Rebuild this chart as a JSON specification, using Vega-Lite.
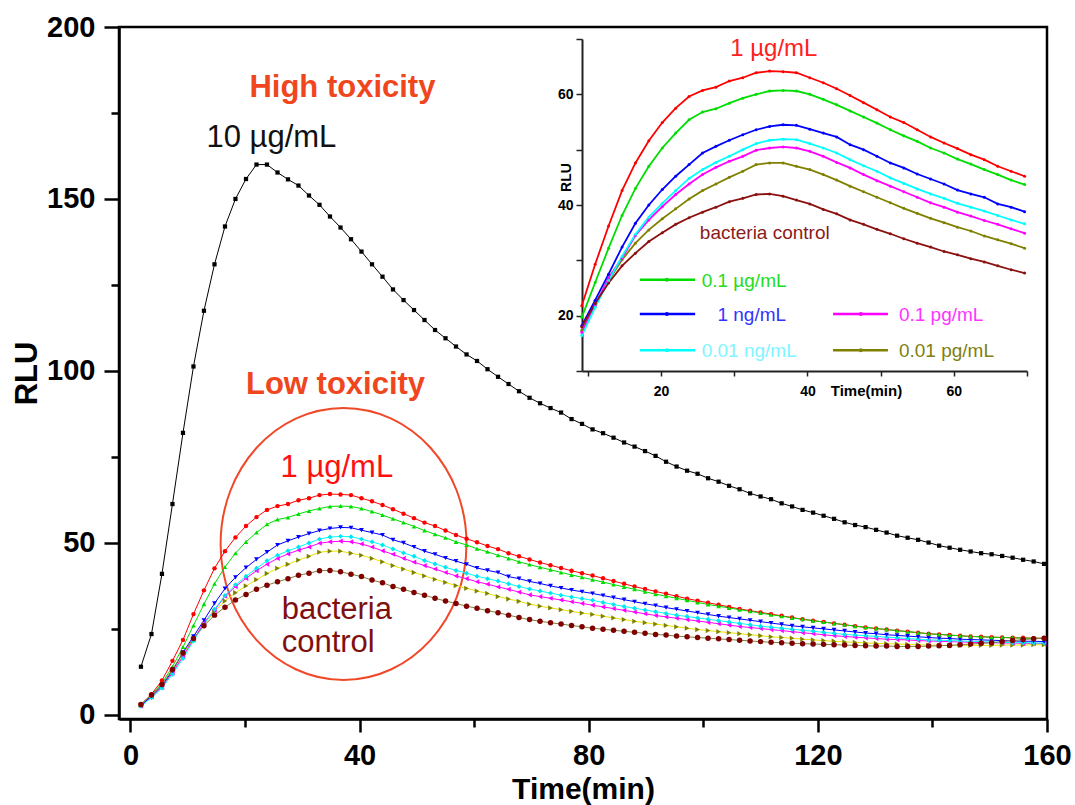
{
"$schema":"https://vega.github.io/schema/vega-lite/v6.json",
"autosize":{"type":"none"},
"width":928,"height":692,
"padding":{"left":119,"top":27,"right":28,"bottom":86},
"background":"white",
"config":{"view":{"stroke":"#000","strokeWidth":2.5},"font":"Liberation Sans","axis":{"grid":false}},
"datasets":{"d":[
{"t":1.83,"s":"k","v":14},{"t":3.67,"s":"k","v":23.5},{"t":5.5,"s":"k","v":41},{"t":7.33,"s":"k","v":61.3},{"t":9.17,"s":"k","v":82},{"t":11,"s":"k","v":101.3},{"t":12.83,"s":"k","v":117.5},{"t":14.67,"s":"k","v":131},{"t":16.5,"s":"k","v":142},{"t":18.33,"s":"k","v":150},
{"t":20.17,"s":"k","v":155.8},{"t":22,"s":"k","v":160},{"t":23.83,"s":"k","v":160},{"t":25.67,"s":"k","v":157.7},{"t":27.5,"s":"k","v":155.7},{"t":29.33,"s":"k","v":153.9},{"t":31.17,"s":"k","v":151},{"t":33,"s":"k","v":148.3},{"t":34.83,"s":"k","v":144.9},{"t":36.67,"s":"k","v":141.7},
{"t":38.5,"s":"k","v":138.3},{"t":40.33,"s":"k","v":134.7},{"t":42.17,"s":"k","v":131},{"t":44,"s":"k","v":127.4},{"t":45.83,"s":"k","v":123.7},{"t":47.67,"s":"k","v":120.6},{"t":49.5,"s":"k","v":117.7},{"t":51.33,"s":"k","v":114.8},{"t":53.17,"s":"k","v":111.9},{"t":55,"s":"k","v":109.5},
{"t":56.83,"s":"k","v":107.1},{"t":58.67,"s":"k","v":104.8},{"t":60.5,"s":"k","v":102.9},{"t":62.33,"s":"k","v":100.5},{"t":64.17,"s":"k","v":98.3},{"t":66,"s":"k","v":96.2},{"t":67.83,"s":"k","v":94.1},{"t":69.67,"s":"k","v":92.2},{"t":71.5,"s":"k","v":90.6},{"t":73.33,"s":"k","v":89.2},
{"t":75.17,"s":"k","v":87.9},{"t":77,"s":"k","v":86},{"t":78.83,"s":"k","v":84.6},{"t":80.67,"s":"k","v":83},{"t":82.5,"s":"k","v":81.9},{"t":84.33,"s":"k","v":80.6},{"t":86.17,"s":"k","v":79.2},{"t":88,"s":"k","v":78},{"t":89.83,"s":"k","v":76.7},{"t":91.67,"s":"k","v":75.3},
{"t":93.5,"s":"k","v":73.6},{"t":95.33,"s":"k","v":72.2},{"t":97.17,"s":"k","v":71},{"t":99,"s":"k","v":70.1},{"t":100.83,"s":"k","v":68.8},{"t":102.67,"s":"k","v":67.8},{"t":104.5,"s":"k","v":66.6},{"t":106.33,"s":"k","v":65.6},{"t":108.17,"s":"k","v":64.4},{"t":110,"s":"k","v":63.5},
{"t":111.83,"s":"k","v":62.7},{"t":113.67,"s":"k","v":61.5},{"t":115.5,"s":"k","v":60.6},{"t":117.33,"s":"k","v":59.6},{"t":119.17,"s":"k","v":58.8},{"t":121,"s":"k","v":57.9},{"t":122.83,"s":"k","v":57},{"t":124.67,"s":"k","v":56},{"t":126.5,"s":"k","v":55.2},{"t":128.33,"s":"k","v":54.6},
{"t":130.17,"s":"k","v":53.8},{"t":132,"s":"k","v":53},{"t":133.83,"s":"k","v":52.1},{"t":135.67,"s":"k","v":51.5},{"t":137.5,"s":"k","v":50.9},{"t":139.33,"s":"k","v":50.1},{"t":141.17,"s":"k","v":49.2},{"t":143,"s":"k","v":48.6},{"t":144.83,"s":"k","v":48},{"t":146.67,"s":"k","v":47.5},
{"t":148.5,"s":"k","v":47},{"t":150.33,"s":"k","v":46.7},{"t":152.17,"s":"k","v":46.2},{"t":154,"s":"k","v":45.7},{"t":155.83,"s":"k","v":45.1},{"t":157.67,"s":"k","v":44.6},{"t":159.5,"s":"k","v":43.9},
{"t":1.83,"s":"o","v":2.8},{"t":3.67,"s":"o","v":5.5},{"t":5.5,"s":"o","v":8.4},{"t":7.33,"s":"o","v":12.6},{"t":9.17,"s":"o","v":17.3},{"t":11,"s":"o","v":22.1},{"t":12.83,"s":"o","v":26.3},{"t":14.67,"s":"o","v":30.1},{"t":16.5,"s":"o","v":33.1},{"t":18.33,"s":"o","v":35.5},
{"t":20.17,"s":"o","v":37.5},{"t":22,"s":"o","v":39.3},{"t":23.83,"s":"o","v":41.1},{"t":25.67,"s":"o","v":42.6},{"t":27.5,"s":"o","v":43.8},{"t":29.33,"s":"o","v":45},{"t":31.17,"s":"o","v":46.1},{"t":33,"s":"o","v":47.3},{"t":34.83,"s":"o","v":47.6},{"t":36.67,"s":"o","v":47.6},
{"t":38.5,"s":"o","v":47},{"t":40.33,"s":"o","v":46.4},{"t":42.17,"s":"o","v":45.5},{"t":44,"s":"o","v":44.5},{"t":45.83,"s":"o","v":43.4},{"t":47.67,"s":"o","v":42.4},{"t":49.5,"s":"o","v":41.4},{"t":51.33,"s":"o","v":40.4},{"t":53.17,"s":"o","v":39.4},{"t":55,"s":"o","v":38.5},
{"t":56.83,"s":"o","v":37.6},{"t":58.67,"s":"o","v":36.8},{"t":60.5,"s":"o","v":36},{"t":62.33,"s":"o","v":35.3},{"t":64.17,"s":"o","v":34.4},{"t":66,"s":"o","v":33.7},{"t":67.83,"s":"o","v":33},{"t":69.67,"s":"o","v":32.2},{"t":71.5,"s":"o","v":31.6},{"t":73.33,"s":"o","v":31.1},
{"t":75.17,"s":"o","v":30.6},{"t":77,"s":"o","v":30.1},{"t":78.83,"s":"o","v":29.6},{"t":80.67,"s":"o","v":29.2},{"t":82.5,"s":"o","v":28.7},{"t":84.33,"s":"o","v":28.2},{"t":86.17,"s":"o","v":27.7},{"t":88,"s":"o","v":27.2},{"t":89.83,"s":"o","v":26.8},{"t":91.67,"s":"o","v":26.4},
{"t":93.5,"s":"o","v":26},{"t":95.33,"s":"o","v":25.6},{"t":97.17,"s":"o","v":25.2},{"t":99,"s":"o","v":24.8},{"t":100.83,"s":"o","v":24.5},{"t":102.67,"s":"o","v":24.2},{"t":104.5,"s":"o","v":23.9},{"t":106.33,"s":"o","v":23.6},{"t":108.17,"s":"o","v":23.3},{"t":110,"s":"o","v":23},
{"t":111.83,"s":"o","v":22.7},{"t":113.67,"s":"o","v":22.5},{"t":115.5,"s":"o","v":22.3},{"t":117.33,"s":"o","v":22},{"t":119.17,"s":"o","v":21.8},{"t":121,"s":"o","v":21.6},{"t":122.83,"s":"o","v":21.4},{"t":124.67,"s":"o","v":21.2},{"t":126.5,"s":"o","v":21.1},{"t":128.33,"s":"o","v":20.9},
{"t":130.17,"s":"o","v":20.8},{"t":132,"s":"o","v":20.7},{"t":133.83,"s":"o","v":20.6},{"t":135.67,"s":"o","v":20.5},{"t":137.5,"s":"o","v":20.4},{"t":139.33,"s":"o","v":20.3},{"t":141.17,"s":"o","v":20.2},{"t":143,"s":"o","v":20.2},{"t":144.83,"s":"o","v":20.2},{"t":146.67,"s":"o","v":20.2},
{"t":148.5,"s":"o","v":20.2},{"t":150.33,"s":"o","v":20.2},{"t":152.17,"s":"o","v":20.3},{"t":154,"s":"o","v":20.3},{"t":155.83,"s":"o","v":20.3},{"t":157.67,"s":"o","v":20.4},{"t":159.5,"s":"o","v":20.4},
{"t":1.83,"s":"m","v":2.6},{"t":3.67,"s":"m","v":5.2},{"t":5.5,"s":"m","v":8},{"t":7.33,"s":"m","v":12.2},{"t":9.17,"s":"m","v":17},{"t":11,"s":"m","v":21.8},{"t":12.83,"s":"m","v":26.8},{"t":14.67,"s":"m","v":30.4},{"t":16.5,"s":"m","v":34.5},{"t":18.33,"s":"m","v":37.3},
{"t":20.17,"s":"m","v":39.7},{"t":22,"s":"m","v":41.9},{"t":23.83,"s":"m","v":43.8},{"t":25.67,"s":"m","v":45.5},{"t":27.5,"s":"m","v":46.8},{"t":29.33,"s":"m","v":47.9},{"t":31.17,"s":"m","v":48.8},{"t":33,"s":"m","v":49.9},{"t":34.83,"s":"m","v":50.3},{"t":36.67,"s":"m","v":50.5},
{"t":38.5,"s":"m","v":50.3},{"t":40.33,"s":"m","v":49.7},{"t":42.17,"s":"m","v":48.8},{"t":44,"s":"m","v":47.7},{"t":45.83,"s":"m","v":46.7},{"t":47.67,"s":"m","v":45.5},{"t":49.5,"s":"m","v":44.4},{"t":51.33,"s":"m","v":43.4},{"t":53.17,"s":"m","v":42.4},{"t":55,"s":"m","v":41.4},
{"t":56.83,"s":"m","v":40.4},{"t":58.67,"s":"m","v":39.6},{"t":60.5,"s":"m","v":38.7},{"t":62.33,"s":"m","v":38},{"t":64.17,"s":"m","v":37.2},{"t":66,"s":"m","v":36.5},{"t":67.83,"s":"m","v":35.7},{"t":69.67,"s":"m","v":34.9},{"t":71.5,"s":"m","v":34.4},{"t":73.33,"s":"m","v":33.9},
{"t":75.17,"s":"m","v":33.4},{"t":77,"s":"m","v":32.9},{"t":78.83,"s":"m","v":32.4},{"t":80.67,"s":"m","v":31.9},{"t":82.5,"s":"m","v":31.4},{"t":84.33,"s":"m","v":30.9},{"t":86.17,"s":"m","v":30.4},{"t":88,"s":"m","v":29.9},{"t":89.83,"s":"m","v":29.4},{"t":91.67,"s":"m","v":28.9},
{"t":93.5,"s":"m","v":28.5},{"t":95.33,"s":"m","v":28.1},{"t":97.17,"s":"m","v":27.7},{"t":99,"s":"m","v":27.3},{"t":100.83,"s":"m","v":26.9},{"t":102.67,"s":"m","v":26.5},{"t":104.5,"s":"m","v":26.1},{"t":106.33,"s":"m","v":25.7},{"t":108.17,"s":"m","v":25.4},{"t":110,"s":"m","v":25.1},
{"t":111.83,"s":"m","v":24.8},{"t":113.67,"s":"m","v":24.5},{"t":115.5,"s":"m","v":24.2},{"t":117.33,"s":"m","v":23.9},{"t":119.17,"s":"m","v":23.6},{"t":121,"s":"m","v":23.3},{"t":122.83,"s":"m","v":23},{"t":124.67,"s":"m","v":22.8},{"t":126.5,"s":"m","v":22.6},{"t":128.33,"s":"m","v":22.4},
{"t":130.17,"s":"m","v":22.2},{"t":132,"s":"m","v":22},{"t":133.83,"s":"m","v":21.9},{"t":135.67,"s":"m","v":21.8},{"t":137.5,"s":"m","v":21.6},{"t":139.33,"s":"m","v":21.5},{"t":141.17,"s":"m","v":21.4},{"t":143,"s":"m","v":21.3},{"t":144.83,"s":"m","v":21.2},{"t":146.67,"s":"m","v":21.1},
{"t":148.5,"s":"m","v":21},{"t":150.33,"s":"m","v":21},{"t":152.17,"s":"m","v":20.9},{"t":154,"s":"m","v":20.9},{"t":155.83,"s":"m","v":20.8},{"t":157.67,"s":"m","v":20.8},{"t":159.5,"s":"m","v":20.8},
{"t":1.83,"s":"c","v":2.5},{"t":3.67,"s":"c","v":5},{"t":5.5,"s":"c","v":7.8},{"t":7.33,"s":"c","v":11.8},{"t":9.17,"s":"c","v":16.4},{"t":11,"s":"c","v":21.5},{"t":12.83,"s":"c","v":26.3},{"t":14.67,"s":"c","v":30.7},{"t":16.5,"s":"c","v":34.7},{"t":18.33,"s":"c","v":37.8},
{"t":20.17,"s":"c","v":40.3},{"t":22,"s":"c","v":42.6},{"t":23.83,"s":"c","v":44.8},{"t":25.67,"s":"c","v":46.4},{"t":27.5,"s":"c","v":47.7},{"t":29.33,"s":"c","v":48.8},{"t":31.17,"s":"c","v":50},{"t":33,"s":"c","v":51.1},{"t":34.83,"s":"c","v":51.7},{"t":36.67,"s":"c","v":51.9},
{"t":38.5,"s":"c","v":51.8},{"t":40.33,"s":"c","v":51.1},{"t":42.17,"s":"c","v":50.3},{"t":44,"s":"c","v":49.4},{"t":45.83,"s":"c","v":48.2},{"t":47.67,"s":"c","v":47.1},{"t":49.5,"s":"c","v":46.1},{"t":51.33,"s":"c","v":44.9},{"t":53.17,"s":"c","v":43.9},{"t":55,"s":"c","v":42.9},
{"t":56.83,"s":"c","v":42},{"t":58.67,"s":"c","v":41.2},{"t":60.5,"s":"c","v":40.3},{"t":62.33,"s":"c","v":39.6},{"t":64.17,"s":"c","v":38.9},{"t":66,"s":"c","v":38.1},{"t":67.83,"s":"c","v":37.3},{"t":69.67,"s":"c","v":36.6},{"t":71.5,"s":"c","v":36},{"t":73.33,"s":"c","v":35.4},
{"t":75.17,"s":"c","v":34.8},{"t":77,"s":"c","v":34.3},{"t":78.83,"s":"c","v":33.8},{"t":80.67,"s":"c","v":33.3},{"t":82.5,"s":"c","v":32.7},{"t":84.33,"s":"c","v":32.1},{"t":86.17,"s":"c","v":31.5},{"t":88,"s":"c","v":31},{"t":89.83,"s":"c","v":30.5},{"t":91.67,"s":"c","v":30},
{"t":93.5,"s":"c","v":29.5},{"t":95.33,"s":"c","v":29},{"t":97.17,"s":"c","v":28.6},{"t":99,"s":"c","v":28.2},{"t":100.83,"s":"c","v":27.8},{"t":102.67,"s":"c","v":27.4},{"t":104.5,"s":"c","v":27},{"t":106.33,"s":"c","v":26.6},{"t":108.17,"s":"c","v":26.2},{"t":110,"s":"c","v":25.8},
{"t":111.83,"s":"c","v":25.5},{"t":113.67,"s":"c","v":25.2},{"t":115.5,"s":"c","v":24.9},{"t":117.33,"s":"c","v":24.6},{"t":119.17,"s":"c","v":24.3},{"t":121,"s":"c","v":24},{"t":122.83,"s":"c","v":23.7},{"t":124.67,"s":"c","v":23.4},{"t":126.5,"s":"c","v":23.2},{"t":128.33,"s":"c","v":23},
{"t":130.17,"s":"c","v":22.8},{"t":132,"s":"c","v":22.6},{"t":133.83,"s":"c","v":22.4},{"t":135.67,"s":"c","v":22.2},{"t":137.5,"s":"c","v":22},{"t":139.33,"s":"c","v":21.8},{"t":141.17,"s":"c","v":21.7},{"t":143,"s":"c","v":21.6},{"t":144.83,"s":"c","v":21.5},{"t":146.67,"s":"c","v":21.4},
{"t":148.5,"s":"c","v":21.3},{"t":150.33,"s":"c","v":21.2},{"t":152.17,"s":"c","v":21.1},{"t":154,"s":"c","v":21},{"t":155.83,"s":"c","v":21},{"t":157.67,"s":"c","v":20.9},{"t":159.5,"s":"c","v":20.9},
{"t":1.83,"s":"b","v":2.8},{"t":3.67,"s":"b","v":5.5},{"t":5.5,"s":"b","v":8.5},{"t":7.33,"s":"b","v":12.8},{"t":9.17,"s":"b","v":18.2},{"t":11,"s":"b","v":22.8},{"t":12.83,"s":"b","v":27.5},{"t":14.67,"s":"b","v":32.4},{"t":16.5,"s":"b","v":36.7},{"t":18.33,"s":"b","v":40},
{"t":20.17,"s":"b","v":42.8},{"t":22,"s":"b","v":45.2},{"t":23.83,"s":"b","v":47.3},{"t":25.67,"s":"b","v":49.4},{"t":27.5,"s":"b","v":50.6},{"t":29.33,"s":"b","v":51.7},{"t":31.17,"s":"b","v":52.7},{"t":33,"s":"b","v":53.6},{"t":34.83,"s":"b","v":54.2},{"t":36.67,"s":"b","v":54.5},
{"t":38.5,"s":"b","v":54.4},{"t":40.33,"s":"b","v":53.7},{"t":42.17,"s":"b","v":53},{"t":44,"s":"b","v":52.3},{"t":45.83,"s":"b","v":50.9},{"t":47.67,"s":"b","v":50},{"t":49.5,"s":"b","v":48.8},{"t":51.33,"s":"b","v":47.6},{"t":53.17,"s":"b","v":46.7},{"t":55,"s":"b","v":45.6},
{"t":56.83,"s":"b","v":44.7},{"t":58.67,"s":"b","v":43.8},{"t":60.5,"s":"b","v":42.7},{"t":62.33,"s":"b","v":42},{"t":64.17,"s":"b","v":41.4},{"t":66,"s":"b","v":40.2},{"t":67.83,"s":"b","v":39.6},{"t":69.67,"s":"b","v":38.8},{"t":71.5,"s":"b","v":38.2},{"t":73.33,"s":"b","v":37.5},
{"t":75.17,"s":"b","v":36.9},{"t":77,"s":"b","v":36.3},{"t":78.83,"s":"b","v":35.8},{"t":80.67,"s":"b","v":35.3},{"t":82.5,"s":"b","v":34.7},{"t":84.33,"s":"b","v":34.1},{"t":86.17,"s":"b","v":33.5},{"t":88,"s":"b","v":32.9},{"t":89.83,"s":"b","v":32.3},{"t":91.67,"s":"b","v":31.8},
{"t":93.5,"s":"b","v":31.2},{"t":95.33,"s":"b","v":30.7},{"t":97.17,"s":"b","v":30.2},{"t":99,"s":"b","v":29.7},{"t":100.83,"s":"b","v":29.2},{"t":102.67,"s":"b","v":28.7},{"t":104.5,"s":"b","v":28.3},{"t":106.33,"s":"b","v":27.9},{"t":108.17,"s":"b","v":27.5},{"t":110,"s":"b","v":27.1},
{"t":111.83,"s":"b","v":26.7},{"t":113.67,"s":"b","v":26.3},{"t":115.5,"s":"b","v":25.9},{"t":117.33,"s":"b","v":25.6},{"t":119.17,"s":"b","v":25.3},{"t":121,"s":"b","v":25},{"t":122.83,"s":"b","v":24.7},{"t":124.67,"s":"b","v":24.4},{"t":126.5,"s":"b","v":24.1},{"t":128.33,"s":"b","v":23.8},
{"t":130.17,"s":"b","v":23.6},{"t":132,"s":"b","v":23.3},{"t":133.83,"s":"b","v":23.1},{"t":135.67,"s":"b","v":22.9},{"t":137.5,"s":"b","v":22.7},{"t":139.33,"s":"b","v":22.5},{"t":141.17,"s":"b","v":22.3},{"t":143,"s":"b","v":22.2},{"t":144.83,"s":"b","v":22},{"t":146.67,"s":"b","v":21.9},
{"t":148.5,"s":"b","v":21.8},{"t":150.33,"s":"b","v":21.7},{"t":152.17,"s":"b","v":21.6},{"t":154,"s":"b","v":21.5},{"t":155.83,"s":"b","v":21.4},{"t":157.67,"s":"b","v":21.4},{"t":159.5,"s":"b","v":21.3},
{"t":1.83,"s":"r","v":3},{"t":3.67,"s":"r","v":6},{"t":5.5,"s":"r","v":10},{"t":7.33,"s":"r","v":15.7},{"t":9.17,"s":"r","v":21.8},{"t":11,"s":"r","v":29.3},{"t":12.83,"s":"r","v":36.2},{"t":14.67,"s":"r","v":42.6},{"t":16.5,"s":"r","v":47.6},{"t":18.33,"s":"r","v":51.6},
{"t":20.17,"s":"r","v":54.9},{"t":22,"s":"r","v":57.5},{"t":23.83,"s":"r","v":59.6},{"t":25.67,"s":"r","v":60.7},{"t":27.5,"s":"r","v":61.3},{"t":29.33,"s":"r","v":62.4},{"t":31.17,"s":"r","v":63},{"t":33,"s":"r","v":63.9},{"t":34.83,"s":"r","v":64.2},{"t":36.67,"s":"r","v":64.1},
{"t":38.5,"s":"r","v":63.9},{"t":40.33,"s":"r","v":63},{"t":42.17,"s":"r","v":62.1},{"t":44,"s":"r","v":61},{"t":45.83,"s":"r","v":59.8},{"t":47.67,"s":"r","v":58.5},{"t":49.5,"s":"r","v":57.2},{"t":51.33,"s":"r","v":55.9},{"t":53.17,"s":"r","v":54.9},{"t":55,"s":"r","v":53.6},
{"t":56.83,"s":"r","v":52.3},{"t":58.67,"s":"r","v":51.2},{"t":60.5,"s":"r","v":50.2},{"t":62.33,"s":"r","v":49.1},{"t":64.17,"s":"r","v":48.2},{"t":66,"s":"r","v":47},{"t":67.83,"s":"r","v":46.1},{"t":69.67,"s":"r","v":45.2},{"t":71.5,"s":"r","v":44.3},{"t":73.33,"s":"r","v":43.5},
{"t":75.17,"s":"r","v":42.7},{"t":77,"s":"r","v":41.9},{"t":78.83,"s":"r","v":41.2},{"t":80.67,"s":"r","v":40.5},{"t":82.5,"s":"r","v":39.7},{"t":84.33,"s":"r","v":38.9},{"t":86.17,"s":"r","v":38.1},{"t":88,"s":"r","v":37.3},{"t":89.83,"s":"r","v":36.6},{"t":91.67,"s":"r","v":35.9},
{"t":93.5,"s":"r","v":35.2},{"t":95.33,"s":"r","v":34.5},{"t":97.17,"s":"r","v":33.8},{"t":99,"s":"r","v":33.2},{"t":100.83,"s":"r","v":32.6},{"t":102.67,"s":"r","v":32},{"t":104.5,"s":"r","v":31.4},{"t":106.33,"s":"r","v":30.8},{"t":108.17,"s":"r","v":30.3},{"t":110,"s":"r","v":29.8},
{"t":111.83,"s":"r","v":29.3},{"t":113.67,"s":"r","v":28.8},{"t":115.5,"s":"r","v":28.3},{"t":117.33,"s":"r","v":27.8},{"t":119.17,"s":"r","v":27.4},{"t":121,"s":"r","v":27},{"t":122.83,"s":"r","v":26.6},{"t":124.67,"s":"r","v":26.2},{"t":126.5,"s":"r","v":25.8},{"t":128.33,"s":"r","v":25.4},
{"t":130.17,"s":"r","v":25.1},{"t":132,"s":"r","v":24.8},{"t":133.83,"s":"r","v":24.5},{"t":135.67,"s":"r","v":24.2},{"t":137.5,"s":"r","v":23.9},{"t":139.33,"s":"r","v":23.6},{"t":141.17,"s":"r","v":23.4},{"t":143,"s":"r","v":23.2},{"t":144.83,"s":"r","v":23},{"t":146.67,"s":"r","v":22.8},
{"t":148.5,"s":"r","v":22.7},{"t":150.33,"s":"r","v":22.6},{"t":152.17,"s":"r","v":22.5},{"t":154,"s":"r","v":22.4},{"t":155.83,"s":"r","v":22.4},{"t":157.67,"s":"r","v":22.3},{"t":159.5,"s":"r","v":22.3},
{"t":1.83,"s":"g","v":3},{"t":3.67,"s":"g","v":5.8},{"t":5.5,"s":"g","v":9.2},{"t":7.33,"s":"g","v":14},{"t":9.17,"s":"g","v":19.7},{"t":11,"s":"g","v":26},{"t":12.83,"s":"g","v":32.2},{"t":14.67,"s":"g","v":38.1},{"t":16.5,"s":"g","v":43},{"t":18.33,"s":"g","v":47},
{"t":20.17,"s":"g","v":50.3},{"t":22,"s":"g","v":53},{"t":23.83,"s":"g","v":55.4},{"t":25.67,"s":"g","v":56.8},{"t":27.5,"s":"g","v":57.4},{"t":29.33,"s":"g","v":58.4},{"t":31.17,"s":"g","v":59.3},{"t":33,"s":"g","v":60},{"t":34.83,"s":"g","v":60.6},{"t":36.67,"s":"g","v":60.7},
{"t":38.5,"s":"g","v":60.6},{"t":40.33,"s":"g","v":60},{"t":42.17,"s":"g","v":59.1},{"t":44,"s":"g","v":58.1},{"t":45.83,"s":"g","v":57},{"t":47.67,"s":"g","v":55.9},{"t":49.5,"s":"g","v":54.8},{"t":51.33,"s":"g","v":53.6},{"t":53.17,"s":"g","v":52.5},{"t":55,"s":"g","v":51.5},
{"t":56.83,"s":"g","v":50.3},{"t":58.67,"s":"g","v":49.4},{"t":60.5,"s":"g","v":48.3},{"t":62.33,"s":"g","v":47.4},{"t":64.17,"s":"g","v":46.4},{"t":66,"s":"g","v":45.5},{"t":67.83,"s":"g","v":44.5},{"t":69.67,"s":"g","v":43.7},{"t":71.5,"s":"g","v":42.9},{"t":73.33,"s":"g","v":42.2},
{"t":75.17,"s":"g","v":41.4},{"t":77,"s":"g","v":40.7},{"t":78.83,"s":"g","v":40},{"t":80.67,"s":"g","v":39.3},{"t":82.5,"s":"g","v":38.6},{"t":84.33,"s":"g","v":37.9},{"t":86.17,"s":"g","v":37.2},{"t":88,"s":"g","v":36.5},{"t":89.83,"s":"g","v":35.8},{"t":91.67,"s":"g","v":35.1},
{"t":93.5,"s":"g","v":34.5},{"t":95.33,"s":"g","v":33.9},{"t":97.17,"s":"g","v":33.3},{"t":99,"s":"g","v":32.7},{"t":100.83,"s":"g","v":32.1},{"t":102.67,"s":"g","v":31.6},{"t":104.5,"s":"g","v":31.1},{"t":106.33,"s":"g","v":30.6},{"t":108.17,"s":"g","v":30.1},{"t":110,"s":"g","v":29.6},
{"t":111.83,"s":"g","v":29.1},{"t":113.67,"s":"g","v":28.7},{"t":115.5,"s":"g","v":28.2},{"t":117.33,"s":"g","v":27.8},{"t":119.17,"s":"g","v":27.4},{"t":121,"s":"g","v":27},{"t":122.83,"s":"g","v":26.6},{"t":124.67,"s":"g","v":26.2},{"t":126.5,"s":"g","v":25.8},{"t":128.33,"s":"g","v":25.5},
{"t":130.17,"s":"g","v":25.1},{"t":132,"s":"g","v":24.8},{"t":133.83,"s":"g","v":24.5},{"t":135.67,"s":"g","v":24.2},{"t":137.5,"s":"g","v":23.9},{"t":139.33,"s":"g","v":23.6},{"t":141.17,"s":"g","v":23.4},{"t":143,"s":"g","v":23.2},{"t":144.83,"s":"g","v":23},{"t":146.67,"s":"g","v":22.8},
{"t":148.5,"s":"g","v":22.7},{"t":150.33,"s":"g","v":22.6},{"t":152.17,"s":"g","v":22.5},{"t":154,"s":"g","v":22.4},{"t":155.83,"s":"g","v":22.3},{"t":157.67,"s":"g","v":22.3},{"t":159.5,"s":"g","v":22.2},
{"t":1.83,"s":"d","v":3},{"t":3.67,"s":"d","v":5.8},{"t":5.5,"s":"d","v":8.8},{"t":7.33,"s":"d","v":13.2},{"t":9.17,"s":"d","v":18},{"t":11,"s":"d","v":22.2},{"t":12.83,"s":"d","v":25.9},{"t":14.67,"s":"d","v":29},{"t":16.5,"s":"d","v":31.3},{"t":18.33,"s":"d","v":33.4},
{"t":20.17,"s":"d","v":35},{"t":22,"s":"d","v":36.5},{"t":23.83,"s":"d","v":37.7},{"t":25.67,"s":"d","v":38.7},{"t":27.5,"s":"d","v":39.6},{"t":29.33,"s":"d","v":40.6},{"t":31.17,"s":"d","v":41.2},{"t":33,"s":"d","v":41.9},{"t":34.83,"s":"d","v":42},{"t":36.67,"s":"d","v":41.6},
{"t":38.5,"s":"d","v":40.9},{"t":40.33,"s":"d","v":40.2},{"t":42.17,"s":"d","v":39.2},{"t":44,"s":"d","v":38.4},{"t":45.83,"s":"d","v":37.3},{"t":47.67,"s":"d","v":36.5},{"t":49.5,"s":"d","v":35.6},{"t":51.33,"s":"d","v":34.8},{"t":53.17,"s":"d","v":33.9},{"t":55,"s":"d","v":33.1},
{"t":56.83,"s":"d","v":32.4},{"t":58.67,"s":"d","v":31.6},{"t":60.5,"s":"d","v":31},{"t":62.33,"s":"d","v":30.3},{"t":64.17,"s":"d","v":29.7},{"t":66,"s":"d","v":29},{"t":67.83,"s":"d","v":28.3},{"t":69.67,"s":"d","v":27.7},{"t":71.5,"s":"d","v":27.2},{"t":73.33,"s":"d","v":26.8},
{"t":75.17,"s":"d","v":26.4},{"t":77,"s":"d","v":26},{"t":78.83,"s":"d","v":25.6},{"t":80.67,"s":"d","v":25.2},{"t":82.5,"s":"d","v":24.9},{"t":84.33,"s":"d","v":24.6},{"t":86.17,"s":"d","v":24.3},{"t":88,"s":"d","v":24},{"t":89.83,"s":"d","v":23.7},{"t":91.67,"s":"d","v":23.4},
{"t":93.5,"s":"d","v":23.2},{"t":95.33,"s":"d","v":22.9},{"t":97.17,"s":"d","v":22.7},{"t":99,"s":"d","v":22.5},{"t":100.83,"s":"d","v":22.3},{"t":102.67,"s":"d","v":22.1},{"t":104.5,"s":"d","v":21.9},{"t":106.33,"s":"d","v":21.7},{"t":108.17,"s":"d","v":21.5},{"t":110,"s":"d","v":21.3},
{"t":111.83,"s":"d","v":21.1},{"t":113.67,"s":"d","v":21},{"t":115.5,"s":"d","v":20.8},{"t":117.33,"s":"d","v":20.7},{"t":119.17,"s":"d","v":20.6},{"t":121,"s":"d","v":20.5},{"t":122.83,"s":"d","v":20.4},{"t":124.67,"s":"d","v":20.3},{"t":126.5,"s":"d","v":20.2},{"t":128.33,"s":"d","v":20.1},
{"t":130.17,"s":"d","v":20},{"t":132,"s":"d","v":20},{"t":133.83,"s":"d","v":19.9},{"t":135.67,"s":"d","v":19.9},{"t":137.5,"s":"d","v":19.9},{"t":139.33,"s":"d","v":20},{"t":141.17,"s":"d","v":20.1},{"t":143,"s":"d","v":20.2},{"t":144.83,"s":"d","v":20.4},{"t":146.67,"s":"d","v":20.6},
{"t":148.5,"s":"d","v":20.8},{"t":150.33,"s":"d","v":21},{"t":152.17,"s":"d","v":21.3},{"t":154,"s":"d","v":21.6},{"t":155.83,"s":"d","v":21.9},{"t":157.67,"s":"d","v":22.1},{"t":159.5,"s":"d","v":22.3}
]},
"layer":[
{
"encoding":{
"x":{"field":"t","type":"quantitative","scale":{"domain":[-2,160],"nice":false,"zero":false},
"axis":{"values":[0,20,40,60,80,100,120,140,160],"labelExpr":"datum.value % 40 === 0 ? datum.label : ''","title":"Time(min)","domainColor":"#000","domainWidth":2.5,"tickColor":"#000","tickWidth":2.5,"tickSize":{"condition":{"test":"datum.value % 40 !== 0","value":8},"value":13},"labelFont":"Liberation Sans","labelFontSize":29,"labelFontWeight":"bold","labelColor":"#000","labelBaseline":"alphabetic","labelPadding":32,"labelOverlap":false,"labelFlush":false,"titleFont":"Liberation Sans","titleFontSize":30,"titleFontWeight":"bold","titleColor":"#000","titleBaseline":"alphabetic","titleAlign":"center","titleX":464,"titleY":79}},
"y":{"field":"v","type":"quantitative","scale":{"domain":[-1.2,200],"nice":false,"zero":false},
"axis":{"values":[0,25,50,75,100,125,150,175,200],"labelExpr":"datum.value % 50 === 0 ? datum.label : ''","title":"RLU","domainColor":"#000","domainWidth":2.5,"tickColor":"#000","tickWidth":2.5,"tickSize":{"condition":{"test":"datum.value % 50 !== 0","value":8},"value":15},"labelFont":"Liberation Sans","labelFontSize":29,"labelFontWeight":"bold","labelColor":"#000","labelPadding":9,"labelOverlap":false,"labelFlush":false,"titleFont":"Liberation Sans","titleFontSize":31,"titleFontWeight":"bold","titleColor":"#000","titleAngle":270,"titleAlign":"center","titleBaseline":"middle","titleX":-92,"titleY":346}}
},
"layer":[
{"data":{"values":[{"t":37.2,"v":49.7}]},"mark":{"type":"point","shape":"M -0.904 0 A 0.904 1 0 1 1 0.904 0 A 0.904 1 0 1 1 -0.904 0 Z","size":73984,"filled":false,"stroke":"#f04828","strokeWidth":2,"opacity":1}},
{"data":{"name":"d"},"mark":{"type":"line","strokeWidth":1},"encoding":{"stroke":{"field":"s","type":"nominal","scale":{"domain":["k","r","g","b","c","m","o","d"],"range":["#000000","#ff0000","#00dd00","#0000ff","#00ffff","#ff00ff","#e6e600","#808040"]},"legend":null}}},
{"data":{"name":"d"},"mark":{"type":"point","filled":true,"opacity":1},"encoding":{
"color":{"field":"s","type":"nominal","scale":{"domain":["k","r","g","b","c","m","o","d"],"range":["#000000","#ff0000","#00dd00","#0000ff","#00e5ee","#ff00ff","#808000","#800000"]},"legend":null},
"shape":{"field":"s","type":"nominal","scale":{"domain":["k","r","g","b","c","m","o","d"],"range":["square","circle","triangle-up","triangle-down","diamond","triangle-left","triangle-right","circle"]},"legend":null},
"size":{"field":"s","type":"nominal","scale":{"domain":["k","r","g","b","c","m","o","d"],"range":[18,30,34,34,28,34,34,30]},"legend":null}}},
{"data":{"values":[{"t":37,"v":179.7,"label":"High toxicity"},{"t":35.8,"v":93.3,"label":"Low toxicity"}]},"mark":{"type":"text","font":"Liberation Sans","fontSize":31,"fontWeight":"bold","fill":"#f0461e","align":"center","baseline":"alphabetic"},"encoding":{"text":{"field":"label"}}},
{"data":{"values":[{"t":24.6,"v":165.1,"label":"10 µg/mL"}]},"mark":{"type":"text","font":"Liberation Sans","fontSize":31,"fill":"#111111","align":"center","baseline":"alphabetic"},"encoding":{"text":{"field":"label"}}},
{"data":{"values":[{"t":26.2,"v":69.2,"label":"1 µg/mL"}]},"mark":{"type":"text","font":"Liberation Sans","fontSize":31,"fill":"#ff1010","align":"left","baseline":"alphabetic"},"encoding":{"text":{"field":"label"}}},
{"data":{"values":[{"t":26.4,"v":27.9,"label":"bacteria"},{"t":26.4,"v":18.3,"label":"control"}]},"mark":{"type":"text","font":"Liberation Sans","fontSize":31,"fill":"#801010","align":"left","baseline":"alphabetic"},"encoding":{"text":{"field":"label"}}}
]
},
{
"encoding":{
"x":{"field":"t","type":"quantitative","scale":{"domain":[9.2,70],"range":[463,908],"nice":false,"zero":false},
"axis":{"orient":"bottom","offset":-348,"values":[10,20,30,40,50,60,70],"labelExpr":"datum.value % 20 === 0 ? datum.label : ''","title":"Time(min)","domainColor":"#222","domainWidth":2,"tickColor":"#222","tickWidth":1.5,"tickSize":5,"labelFont":"Liberation Sans","labelFontSize":14,"labelFontWeight":"bold","labelColor":"#000","labelBaseline":"alphabetic","labelPadding":19,"labelOverlap":false,"labelFlush":false,"titleFont":"Liberation Sans","titleFontSize":15,"titleFontWeight":"bold","titleColor":"#000","titleBaseline":"alphabetic","titleAlign":"center","titleX":747,"titleY":24}},
"y":{"field":"v","type":"quantitative","scale":{"domain":[10,70],"range":[344,12],"nice":false,"zero":false},
"axis":{"orient":"left","offset":-463,"values":[10,20,30,40,50,60,70],"labelExpr":"(datum.value === 20 || datum.value === 40 || datum.value === 60) ? datum.label : ''","title":"RLU","domainColor":"#222","domainWidth":2,"tickColor":"#222","tickWidth":1.5,"tickSize":6,"labelFont":"Liberation Sans","labelFontSize":14,"labelFontWeight":"bold","labelColor":"#000","labelPadding":3,"labelOverlap":false,"labelFlush":false,"titleFont":"Liberation Sans","titleFontSize":14,"titleFontWeight":"bold","titleColor":"#000","titleAngle":270,"titleAlign":"center","titleBaseline":"middle","titleX":-16,"titleY":150}}
},
"layer":[
{"data":{"name":"d"},"transform":[{"filter":"datum.t >= 9 && datum.t <= 70 && datum.s !== 'k'"}],"mark":{"type":"line","strokeWidth":1.8},"encoding":{"stroke":{"field":"s","type":"nominal","scale":{"domain":["r","g","b","c","m","o","d"],"range":["#ff0000","#00dd00","#0000ff","#00ffff","#ff00ff","#808000","#8b1010"]},"legend":null}}},
{"data":{"name":"d"},"transform":[{"filter":"datum.t >= 9 && datum.t <= 70 && datum.s !== 'k'"}],"mark":{"type":"point","filled":true,"size":9,"opacity":1},"encoding":{"color":{"field":"s","type":"nominal","scale":{"domain":["r","g","b","c","m","o","d"],"range":["#ff0000","#00dd00","#0000ff","#00ffff","#ff00ff","#808000","#8b1010"]},"legend":null}}},
{"data":{"values":[{"t":17.1,"t2":24.66,"v":26.5,"s":"g"},{"t":17.1,"t2":24.66,"v":20.3,"s":"b"},{"t":17.1,"t2":24.66,"v":13.75,"s":"c"},{"t":43.5,"t2":51,"v":20.3,"s":"m"},{"t":43.5,"t2":51,"v":13.75,"s":"o"}]},"mark":{"type":"rule","strokeWidth":2.5},"encoding":{"x2":{"field":"t2"},"stroke":{"field":"s","type":"nominal","scale":{"domain":["r","g","b","c","m","o","d"],"range":["#ff0000","#00dd00","#0000ff","#00ffff","#ff00ff","#808000","#8b1010"]},"legend":null}}},
{"data":{"values":[{"t":20.8,"v":26.5,"s":"g"},{"t":20.8,"v":20.3,"s":"b"},{"t":20.8,"v":13.75,"s":"c"},{"t":47.3,"v":20.3,"s":"m"},{"t":47.3,"v":13.75,"s":"o"}]},"mark":{"type":"point","filled":true,"size":16,"opacity":1},"encoding":{"color":{"field":"s","type":"nominal","scale":{"domain":["r","g","b","c","m","o","d"],"range":["#ff0000","#00dd00","#0000ff","#00ffff","#ff00ff","#808000","#8b1010"]},"legend":null}}},
{"data":{"values":[{"t":25.55,"v":25.25,"s":"g","label":"0.1 µg/mL"},{"t":27.7,"v":19,"s":"b","label":"1 ng/mL"},{"t":25.55,"v":12.5,"s":"c","label":"0.01 ng/mL"},{"t":52.5,"v":19,"s":"m","label":"0.1 pg/mL"},{"t":52.5,"v":12.5,"s":"o","label":"0.01 pg/mL"}]},"mark":{"type":"text","font":"Liberation Sans","fontSize":19,"align":"left","baseline":"alphabetic"},"encoding":{"text":{"field":"label"},"fill":{"field":"s","type":"nominal","scale":{"domain":["g","b","c","m","o"],"range":["#22dd22","#3333ff","#7ff5ff","#ff33ff","#808010"]},"legend":null}}},
{"data":{"values":[{"t":29.45,"v":66.9,"label":"1 µg/mL"}]},"mark":{"type":"text","font":"Liberation Sans","fontSize":24,"fill":"#ff2020","align":"left","baseline":"alphabetic"},"encoding":{"text":{"field":"label"}}},
{"data":{"values":[{"t":25.3,"v":33.9,"label":"bacteria control"}]},"mark":{"type":"text","font":"Liberation Sans","fontSize":19,"fill":"#8b1a1a","align":"left","baseline":"alphabetic"},"encoding":{"text":{"field":"label"}}}
]
}
],
"resolve":{"scale":{"x":"independent","y":"independent","color":"independent","stroke":"independent","shape":"independent","size":"independent","fill":"independent"},"axis":{"x":"independent","y":"independent"}}
}
